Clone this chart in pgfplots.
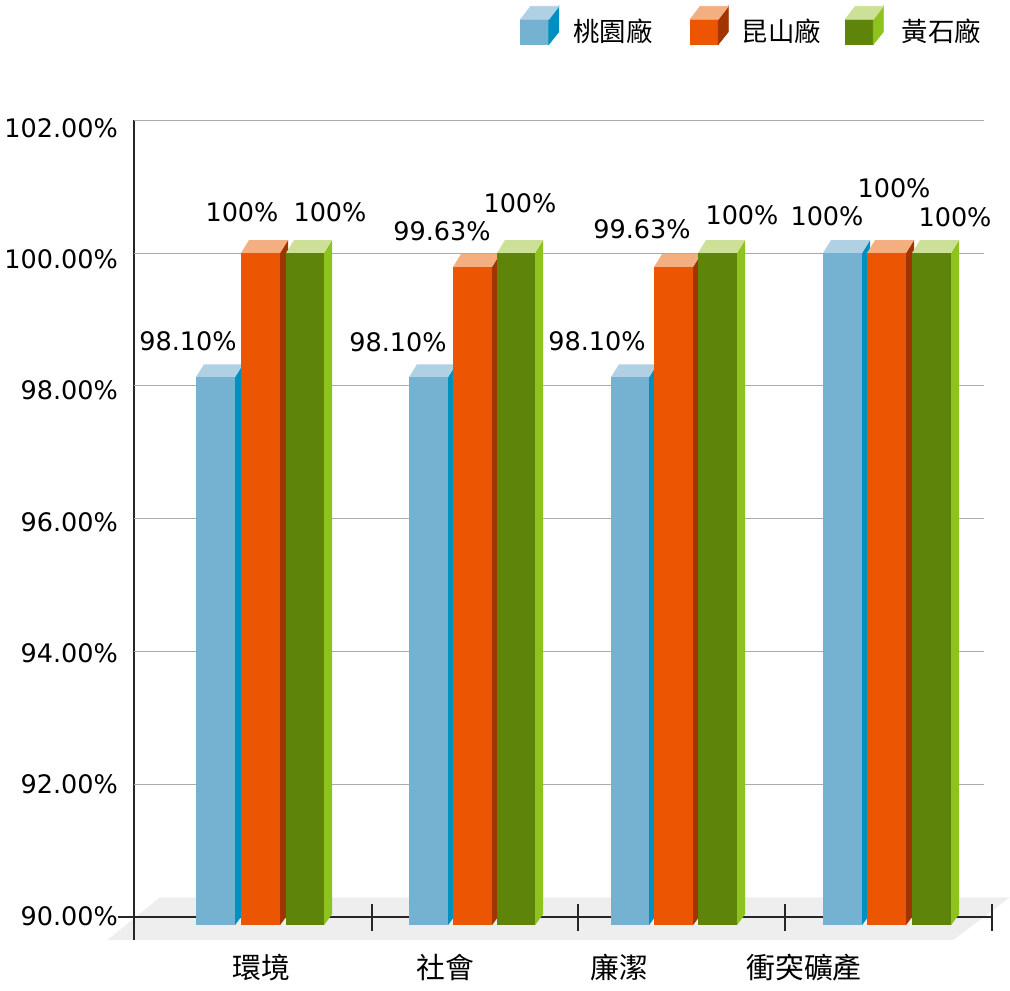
\documentclass[border=0pt]{standalone}
\usepackage{pgfplots}
\pgfplotsset{compat=1.18}
\usepackage{fontspec}
\setmainfont{DejaVu Sans}
\newfontfamily\cjk{Noto Sans CJK TC}

% colours: front, side, top of each series
\definecolor{bluefront}{HTML}{75B2D1}
\definecolor{blueside}{HTML}{0090BF}
\definecolor{bluetop}{HTML}{B0D0E4}
\definecolor{orangefront}{HTML}{EC5602}
\definecolor{orangeside}{HTML}{A03500}
\definecolor{orangetop}{HTML}{F4AF80}
\definecolor{greenfront}{HTML}{5F840A}
\definecolor{greenside}{HTML}{8DC21F}
\definecolor{greentop}{HTML}{CDE098}
\definecolor{floorc}{HTML}{EEEEEE}
\definecolor{gridc}{HTML}{ABABAB}

% x0, x1, value, series
\newcommand\cube[4]{%
  \pgfmathsetmacro\xb{#2+8}%
  \pgfmathsetmacro\xc{#1+8}%
  \pgfmathsetmacro\vb{#3+13/66.4}%
  \pgfmathsetmacro\bb{89.88+11/66.4}%
  \edef\next{%
    \noexpand\addplot[fill=#4side,draw=none,forget plot] coordinates {(#2,#3) (\xb,\vb) (\xb,\bb) (#2,89.88)};
    \noexpand\addplot[fill=#4top,draw=none,forget plot] coordinates {(#1,#3) (#2,#3) (\xb,\vb) (\xc,\vb)};
    \noexpand\addplot[fill=#4front,draw=none,forget plot] coordinates {(#1,89.88) (#2,89.88) (#2,#3) (#1,#3)};
  }\next
}
% data label at pixel position
\newcommand\lab[3]{\node[font=\fontsize{12.75}{15}\selectfont] at (axis cs:#1,{90+(917-#2)/66.4}) {#3};}

\pgfplotsset{cube legend/.style n args={3}{legend image code/.code={
  \fill[#1] (0pt,-6.25pt) rectangle (14pt,6.25pt);
  \fill[#2] (14pt,-6.25pt) -- (19pt,0pt) -- (19pt,12.75pt) -- (14pt,6.25pt) -- cycle;
  \fill[#3] (0pt,6.25pt) -- (14pt,6.25pt) -- (19pt,12.75pt) -- (5pt,12.75pt) -- cycle;
}}}

\begin{document}
\begin{tikzpicture}
\begin{axis}[
    set layers,
    scale only axis,
    width=429pt,
    height=398.5pt,
    xmin=134, xmax=992,
    ymin=90, ymax=102,
    clip=false,
    axis lines=left,
    axis line style={-, line width=1pt, color=black!85},
    tick style={line width=1pt, color=black!85},
    xtick={261,445,619,804},
    xticklabels={環境,社會,廉潔,衝突礦產},
    x tick label style={font=\cjk\fontsize{14.4}{16}\selectfont, yshift=-15pt},
    major tick length=0pt,
    extra x ticks={372,578,785,992},
    extra x tick labels={},
    extra x tick style={major tick length=13.5pt, tick align=center},
    ytick={90,92,94,96,98,100,102},
    tick label style={font=\fontsize{12.75}{15}\selectfont},
    /pgf/number format/assume math mode=true,
    yticklabel={\pgfmathsetmacro\lift{-4-(\tick-90)*0.375}\raisebox{\lift pt}[0pt][0pt]{\pgfmathprintnumber[fixed,fixed zerofill,precision=2]{\tick}\%}},
    y tick label style={xshift=-4.5pt},
    legend style={
      at={(axis cs:514,103.4)}, anchor=west, draw=none, fill=none,
      font=\cjk\fontsize{13.2}{15}\selectfont, legend columns=3,
      /tikz/column 1/.style={column sep=5pt},
      /tikz/column 2/.style={column sep=16.75pt},
      /tikz/column 3/.style={column sep=4.5pt},
      /tikz/column 4/.style={column sep=10pt},
      /tikz/column 5/.style={column sep=7pt},
    },
]
% floor
\addplot[fill=floorc,draw=none,forget plot,on layer=axis background] coordinates {(107,89.654) (160,90.3) (1010,90.3) (953,89.654)};
% grid lines
\pgfplotsinvokeforeach{92,94,96,98,100,102}{
  \addplot[gridc,line width=0.5pt,forget plot] coordinates {(134,#1) (984,#1)};
}
\draw[line width=1pt,color=black!85] (axis cs:134,90) -- (axis cs:134,{90-23/66.4});
\draw[line width=1pt,color=black!85] (axis cs:118,90) -- (axis cs:134,90);

\addlegendimage{cube legend={bluefront}{blueside}{bluetop}}
\addlegendentry{桃園廠}
\addlegendimage{cube legend={orangefront}{orangeside}{orangetop}}
\addlegendentry{昆山廠}
\addlegendimage{cube legend={greenfront}{greenside}{greentop}}
\addlegendentry{黃石廠}

\cube{196}{235}{98.13}{blue}
\cube{241}{280}{100}{orange}
\cube{286}{324}{100}{green}

\cube{409}{448}{98.13}{blue}
\cube{453}{492}{99.79}{orange}
\cube{497}{535}{100}{green}

\cube{611}{649}{98.13}{blue}
\cube{654}{693}{99.79}{orange}
\cube{698}{737}{100}{green}

\cube{823}{862}{100}{blue}
\cube{867}{906}{100}{orange}
\cube{912}{951}{100}{green}

\lab{188}{341}{98.10\%}
\lab{242}{212}{100\%}
\lab{330}{212}{100\%}
\lab{398}{342}{98.10\%}
\lab{442}{231}{99.63\%}
\lab{520}{203}{100\%}
\lab{597}{341}{98.10\%}
\lab{642}{229}{99.63\%}
\lab{742}{215}{100\%}
\lab{827}{216}{100\%}
\lab{894}{188}{100\%}
\lab{955}{217}{100\%}

% page corners in reference pixels
\coordinate (tl) at (axis cs:0,{90+917/66.4});
\coordinate (br) at (axis cs:1010,{90+(917-990)/66.4});
\end{axis}
\pgfresetboundingbox
\path[use as bounding box] (tl) rectangle (br);
\end{tikzpicture}
\end{document}
